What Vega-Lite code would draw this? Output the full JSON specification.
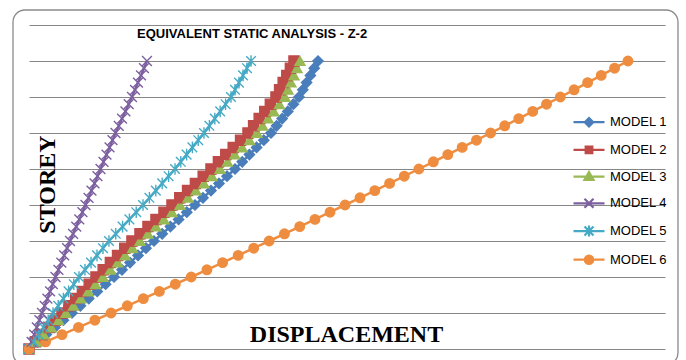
{
  "$schema": "https://vega.github.io/schema/vega-lite/v6.json",
  "width": 636,
  "height": 324,
  "autosize": "none",
  "padding": {"left": 29, "top": 25, "right": 21, "bottom": 11},
  "background": "white",
  "title": {
    "text": "EQUIVALENT STATIC ANALYSIS - Z-2",
    "anchor": "start",
    "frame": "group",
    "font": "Liberation Sans",
    "fontSize": 13,
    "fontWeight": "bold",
    "color": "#000000",
    "baseline": "alphabetic",
    "offset": 0,
    "dx": 108,
    "dy": 42
  },
  "datasets": {
    "drift": [
      {"storey": 0, "MODEL 1": 0, "MODEL 2": 0, "MODEL 3": 0, "MODEL 4": 0, "MODEL 5": 0, "MODEL 6": 0},
      {"storey": 1, "MODEL 1": 1.62, "MODEL 2": 1.25, "MODEL 3": 1.40, "MODEL 4": 0.49, "MODEL 5": 0.91, "MODEL 6": 3.13},
      {"storey": 2, "MODEL 1": 3.25, "MODEL 2": 2.49, "MODEL 3": 2.79, "MODEL 4": 0.98, "MODEL 5": 1.81, "MODEL 6": 6.24},
      {"storey": 3, "MODEL 1": 4.87, "MODEL 2": 3.74, "MODEL 3": 4.19, "MODEL 4": 1.47, "MODEL 5": 2.72, "MODEL 6": 9.34},
      {"storey": 4, "MODEL 1": 6.49, "MODEL 2": 4.98, "MODEL 3": 5.58, "MODEL 4": 1.96, "MODEL 5": 3.62, "MODEL 6": 12.43},
      {"storey": 5, "MODEL 1": 8.11, "MODEL 2": 6.23, "MODEL 3": 6.98, "MODEL 4": 2.45, "MODEL 5": 4.53, "MODEL 6": 15.49},
      {"storey": 6, "MODEL 1": 9.70, "MODEL 2": 7.51, "MODEL 3": 8.38, "MODEL 4": 2.96, "MODEL 5": 5.51, "MODEL 6": 18.55},
      {"storey": 7, "MODEL 1": 11.28, "MODEL 2": 8.80, "MODEL 3": 9.77, "MODEL 4": 3.47, "MODEL 5": 6.49, "MODEL 6": 21.58},
      {"storey": 8, "MODEL 1": 12.87, "MODEL 2": 10.08, "MODEL 3": 11.17, "MODEL 4": 3.98, "MODEL 5": 7.47, "MODEL 6": 24.60},
      {"storey": 9, "MODEL 1": 14.45, "MODEL 2": 11.36, "MODEL 3": 12.56, "MODEL 4": 4.49, "MODEL 5": 8.45, "MODEL 6": 27.61},
      {"storey": 10, "MODEL 1": 16.04, "MODEL 2": 12.64, "MODEL 3": 13.96, "MODEL 4": 5.00, "MODEL 5": 9.43, "MODEL 6": 30.60},
      {"storey": 11, "MODEL 1": 17.55, "MODEL 2": 14.00, "MODEL 3": 15.36, "MODEL 4": 5.55, "MODEL 5": 10.56, "MODEL 6": 33.57},
      {"storey": 12, "MODEL 1": 19.06, "MODEL 2": 15.36, "MODEL 3": 16.75, "MODEL 4": 6.10, "MODEL 5": 11.70, "MODEL 6": 36.53},
      {"storey": 13, "MODEL 1": 20.57, "MODEL 2": 16.71, "MODEL 3": 18.15, "MODEL 4": 6.64, "MODEL 5": 12.83, "MODEL 6": 39.47},
      {"storey": 14, "MODEL 1": 22.07, "MODEL 2": 18.07, "MODEL 3": 19.54, "MODEL 4": 7.19, "MODEL 5": 13.96, "MODEL 6": 42.40},
      {"storey": 15, "MODEL 1": 23.58, "MODEL 2": 19.43, "MODEL 3": 20.94, "MODEL 4": 7.74, "MODEL 5": 15.09, "MODEL 6": 45.31},
      {"storey": 16, "MODEL 1": 25.13, "MODEL 2": 20.94, "MODEL 3": 22.45, "MODEL 4": 8.32, "MODEL 5": 16.37, "MODEL 6": 48.20},
      {"storey": 17, "MODEL 1": 26.68, "MODEL 2": 22.45, "MODEL 3": 23.96, "MODEL 4": 8.91, "MODEL 5": 17.66, "MODEL 6": 51.08},
      {"storey": 18, "MODEL 1": 28.22, "MODEL 2": 23.96, "MODEL 3": 25.47, "MODEL 4": 9.49, "MODEL 5": 18.94, "MODEL 6": 53.95},
      {"storey": 19, "MODEL 1": 29.77, "MODEL 2": 25.47, "MODEL 3": 26.98, "MODEL 4": 10.08, "MODEL 5": 20.23, "MODEL 6": 56.80},
      {"storey": 20, "MODEL 1": 31.32, "MODEL 2": 26.98, "MODEL 3": 28.49, "MODEL 4": 10.66, "MODEL 5": 21.51, "MODEL 6": 59.63},
      {"storey": 21, "MODEL 1": 32.83, "MODEL 2": 28.45, "MODEL 3": 30.00, "MODEL 4": 11.23, "MODEL 5": 22.72, "MODEL 6": 62.45},
      {"storey": 22, "MODEL 1": 34.34, "MODEL 2": 29.92, "MODEL 3": 31.51, "MODEL 4": 11.79, "MODEL 5": 23.93, "MODEL 6": 65.25},
      {"storey": 23, "MODEL 1": 35.85, "MODEL 2": 31.40, "MODEL 3": 33.02, "MODEL 4": 12.36, "MODEL 5": 25.13, "MODEL 6": 68.04},
      {"storey": 24, "MODEL 1": 37.36, "MODEL 2": 32.87, "MODEL 3": 34.53, "MODEL 4": 12.92, "MODEL 5": 26.34, "MODEL 6": 70.81},
      {"storey": 25, "MODEL 1": 38.87, "MODEL 2": 34.34, "MODEL 3": 36.04, "MODEL 4": 13.49, "MODEL 5": 27.55, "MODEL 6": 73.56},
      {"storey": 26, "MODEL 1": 40.23, "MODEL 2": 35.74, "MODEL 3": 37.44, "MODEL 4": 14.06, "MODEL 5": 28.64, "MODEL 6": 76.30},
      {"storey": 27, "MODEL 1": 41.59, "MODEL 2": 37.13, "MODEL 3": 38.83, "MODEL 4": 14.62, "MODEL 5": 29.74, "MODEL 6": 79.02},
      {"storey": 28, "MODEL 1": 42.94, "MODEL 2": 38.53, "MODEL 3": 40.23, "MODEL 4": 15.19, "MODEL 5": 30.83, "MODEL 6": 81.73},
      {"storey": 29, "MODEL 1": 44.30, "MODEL 2": 39.92, "MODEL 3": 41.62, "MODEL 4": 15.75, "MODEL 5": 31.93, "MODEL 6": 84.43},
      {"storey": 30, "MODEL 1": 45.66, "MODEL 2": 41.32, "MODEL 3": 43.02, "MODEL 4": 16.32, "MODEL 5": 33.02, "MODEL 6": 87.10},
      {"storey": 31, "MODEL 1": 46.72, "MODEL 2": 42.38, "MODEL 3": 44.08, "MODEL 4": 16.94, "MODEL 5": 34.04, "MODEL 6": 89.76},
      {"storey": 32, "MODEL 1": 47.77, "MODEL 2": 43.43, "MODEL 3": 45.13, "MODEL 4": 17.56, "MODEL 5": 35.06, "MODEL 6": 92.41},
      {"storey": 33, "MODEL 1": 48.83, "MODEL 2": 44.49, "MODEL 3": 46.19, "MODEL 4": 18.19, "MODEL 5": 36.07, "MODEL 6": 95.04},
      {"storey": 34, "MODEL 1": 49.88, "MODEL 2": 45.54, "MODEL 3": 47.24, "MODEL 4": 18.81, "MODEL 5": 37.09, "MODEL 6": 97.65},
      {"storey": 35, "MODEL 1": 50.94, "MODEL 2": 46.60, "MODEL 3": 48.30, "MODEL 4": 19.43, "MODEL 5": 38.11, "MODEL 6": 100.25},
      {"storey": 36, "MODEL 1": 51.66, "MODEL 2": 47.28, "MODEL 3": 48.87, "MODEL 4": 20.00, "MODEL 5": 38.87, "MODEL 6": 102.84},
      {"storey": 37, "MODEL 1": 52.38, "MODEL 2": 47.96, "MODEL 3": 49.43, "MODEL 4": 20.56, "MODEL 5": 39.62, "MODEL 6": 105.40},
      {"storey": 38, "MODEL 1": 53.09, "MODEL 2": 48.64, "MODEL 3": 50.00, "MODEL 4": 21.13, "MODEL 5": 40.38, "MODEL 6": 107.96},
      {"storey": 39, "MODEL 1": 53.81, "MODEL 2": 49.32, "MODEL 3": 50.57, "MODEL 4": 21.69, "MODEL 5": 41.13, "MODEL 6": 110.49},
      {"storey": 40, "MODEL 1": 54.53, "MODEL 2": 50.00, "MODEL 3": 51.13, "MODEL 4": 22.26, "MODEL 5": 41.89, "MODEL 6": 113.01}
    ]
  },
  "resolve": {"scale": {"fill": "independent", "stroke": "independent", "shape": "independent", "size": "independent"}},
  "layer": [
    {
      "data": {"values": [{}]},
      "mark": {"type": "rect", "filled": false, "stroke": "#8a8a8a", "strokeWidth": 1.3, "cornerRadius": 12, "clip": false},
      "encoding": {
        "x": {
          "datum": -3.02, "type": "quantitative",
          "scale": {"domain": [0, 120], "nice": false, "zero": false},
          "axis": {
            "labels": false, "ticks": false, "domain": false, "grid": false,
            "title": "DISPLACEMENT",
            "titleFont": "Liberation Serif", "titleFontSize": 24, "titleFontWeight": "bold", "titleColor": "#000000",
            "titleX": 317, "titleY": -7.5, "titleBaseline": "alphabetic", "titleAlign": "center"
          }
        },
        "x2": {"datum": 122.45},
        "y": {
          "datum": 47.08, "type": "quantitative",
          "scale": {"domain": [0, 45], "nice": false},
          "axis": {
            "values": [0, 5, 10, 15, 20, 25, 30, 35, 40, 45],
            "labels": false, "ticks": false, "domain": false, "labelOverlap": false,
            "grid": true, "gridColor": "#868686", "gridWidth": 1.1,
            "title": "STOREY",
            "titleFont": "Liberation Serif", "titleFontSize": 24, "titleFontWeight": "bold", "titleColor": "#000000",
            "titleAngle": 270, "titleX": 18, "titleY": 159, "titleBaseline": "middle", "titleAlign": "center"
          }
        },
        "y2": {"datum": -2.2}
      }
    },
    {
      "data": {"name": "drift"},
      "transform": [{"fold": ["MODEL 1", "MODEL 2", "MODEL 3", "MODEL 4", "MODEL 5", "MODEL 6"], "as": ["model", "disp"]}],
      "mark": {"type": "line", "strokeWidth": 2.5},
      "encoding": {
        "x": {
          "field": "disp", "type": "quantitative",
          "scale": {"domain": [0, 120], "nice": false, "zero": false},
          "axis": {
            "labels": false, "ticks": false, "domain": false, "grid": false,
            "title": "DISPLACEMENT",
            "titleFont": "Liberation Serif", "titleFontSize": 24, "titleFontWeight": "bold", "titleColor": "#000000",
            "titleX": 317, "titleY": -7.5, "titleBaseline": "alphabetic", "titleAlign": "center"
          }
        },
        "y": {
          "field": "storey", "type": "quantitative",
          "scale": {"domain": [0, 45], "nice": false},
          "axis": {
            "values": [0, 5, 10, 15, 20, 25, 30, 35, 40, 45],
            "labels": false, "ticks": false, "domain": false, "labelOverlap": false,
            "grid": true, "gridColor": "#868686", "gridWidth": 1.1,
            "title": "STOREY",
            "titleFont": "Liberation Serif", "titleFontSize": 24, "titleFontWeight": "bold", "titleColor": "#000000",
            "titleAngle": 270, "titleX": 18, "titleY": 159, "titleBaseline": "middle", "titleAlign": "center"
          }
        },
        "stroke": {
          "field": "model", "type": "nominal",
          "scale": {"domain": ["MODEL 1", "MODEL 2", "MODEL 3", "MODEL 4", "MODEL 5", "MODEL 6"], "range": ["#4A7EBB", "#BE4B48", "#98B954", "#7D60A0", "#46AAC5", "#EE8D3F"]},
          "legend": null
        },
        "order": {"field": "storey", "type": "quantitative"}
      }
    },
    {
      "data": {"name": "drift"},
      "transform": [{"fold": ["MODEL 1", "MODEL 2", "MODEL 3", "MODEL 4", "MODEL 5", "MODEL 6"], "as": ["model", "disp"]}],
      "mark": {"type": "point", "filled": true, "opacity": 1, "strokeWidth": 1.4},
      "encoding": {
        "x": {
          "field": "disp", "type": "quantitative",
          "axis": {
            "labels": false, "ticks": false, "domain": false, "grid": false,
            "title": "DISPLACEMENT",
            "titleFont": "Liberation Serif", "titleFontSize": 24, "titleFontWeight": "bold", "titleColor": "#000000",
            "titleX": 317, "titleY": -7.5, "titleBaseline": "alphabetic", "titleAlign": "center"
          }
        },
        "y": {
          "field": "storey", "type": "quantitative",
          "axis": {
            "values": [0, 5, 10, 15, 20, 25, 30, 35, 40, 45],
            "labels": false, "ticks": false, "domain": false, "labelOverlap": false,
            "grid": true, "gridColor": "#868686", "gridWidth": 1.1,
            "title": "STOREY",
            "titleFont": "Liberation Serif", "titleFontSize": 24, "titleFontWeight": "bold", "titleColor": "#000000",
            "titleAngle": 270, "titleX": 18, "titleY": 159, "titleBaseline": "middle", "titleAlign": "center"
          }
        },
        "fill": {
          "field": "model", "type": "nominal",
          "scale": {"domain": ["MODEL 1", "MODEL 2", "MODEL 3", "MODEL 4", "MODEL 5", "MODEL 6"], "range": ["#4A7EBB", "#BE4B48", "#98B954", "#7D60A0", "#46AAC5", "#EE8D3F"]},
          "legend": null
        },
        "stroke": {
          "field": "model", "type": "nominal",
          "scale": {"domain": ["MODEL 1", "MODEL 2", "MODEL 3", "MODEL 4", "MODEL 5", "MODEL 6"], "range": ["#4A7EBB", "#BE4B48", "#98B954", "#7D60A0", "#46AAC5", "#EE8D3F"]},
          "legend": null
        },
        "shape": {
          "field": "model", "type": "nominal",
          "scale": {"domain": ["MODEL 1", "MODEL 2", "MODEL 3", "MODEL 4", "MODEL 5", "MODEL 6"], "range": ["diamond", "square", "triangle-up", "M-1,-1L1,1M-1,1L1,-1", "M-1,-1L1,1M-1,1L1,-1M0,-1.2L0,1.2", "circle"]},
          "legend": null
        },
        "size": {
          "field": "model", "type": "nominal",
          "scale": {"domain": ["MODEL 1", "MODEL 2", "MODEL 3", "MODEL 4", "MODEL 5", "MODEL 6"], "range": [105, 90, 135, 100, 100, 135]},
          "legend": null
        }
      }
    },
    {
      "data": {"values": []},
      "mark": {"type": "point", "filled": true, "opacity": 1},
      "encoding": {
        "fill": {
          "field": "model", "type": "nominal",
          "scale": {"domain": ["MODEL 1", "MODEL 2", "MODEL 3", "MODEL 4", "MODEL 5", "MODEL 6"], "range": ["#4A7EBB", "#BE4B48", "#98B954", "#7D60A0", "#46AAC5", "#EE8D3F"]},
          "legend": {"orient": "none", "legendX": 548.5, "legendY": 85.7, "title": null, "padding": 0, "symbolSize": 400, "symbolStrokeWidth": 2.25, "labelFont": "Liberation Sans", "labelFontSize": 13, "labelColor": "#000000", "labelOffset": 9.5, "rowPadding": 6.7}
        },
        "stroke": {
          "field": "model", "type": "nominal",
          "scale": {"domain": ["MODEL 1", "MODEL 2", "MODEL 3", "MODEL 4", "MODEL 5", "MODEL 6"], "range": ["#4A7EBB", "#BE4B48", "#98B954", "#7D60A0", "#46AAC5", "#EE8D3F"]},
          "legend": {"orient": "none", "legendX": 548.5, "legendY": 85.7, "title": null, "padding": 0, "symbolSize": 400, "symbolStrokeWidth": 2.25, "labelFont": "Liberation Sans", "labelFontSize": 13, "labelColor": "#000000", "labelOffset": 9.5, "rowPadding": 6.7}
        },
        "shape": {
          "field": "model", "type": "nominal",
          "scale": {
            "domain": ["MODEL 1", "MODEL 2", "MODEL 3", "MODEL 4", "MODEL 5", "MODEL 6"],
            "range": [
              "M-1.55,0H1.55M0,-0.42L0.42,0L0,0.42L-0.42,0Z",
              "M-1.55,0H1.55M-0.33,-0.33H0.33V0.33H-0.33Z",
              "M-1.55,0H1.55M0,-0.45L0.45,0.33H-0.45Z",
              "M-1.55,0H1.55M-0.45,-0.45L0.45,0.45M-0.45,0.45L0.45,-0.45",
              "M-1.55,0H1.55M-0.45,-0.45L0.45,0.45M-0.45,0.45L0.45,-0.45M0,-0.55V0.55",
              "M-1.55,0H1.55M0.42,0A0.42,0.42,0,1,1,-0.42,0A0.42,0.42,0,1,1,0.42,0Z"
            ]
          },
          "legend": {"orient": "none", "legendX": 548.5, "legendY": 85.7, "title": null, "padding": 0, "symbolSize": 400, "symbolStrokeWidth": 2.25, "labelFont": "Liberation Sans", "labelFontSize": 13, "labelColor": "#000000", "labelOffset": 9.5, "rowPadding": 6.7}
        }
      }
    }
  ],
  "config": {
    "view": {"stroke": null}
  }
}
